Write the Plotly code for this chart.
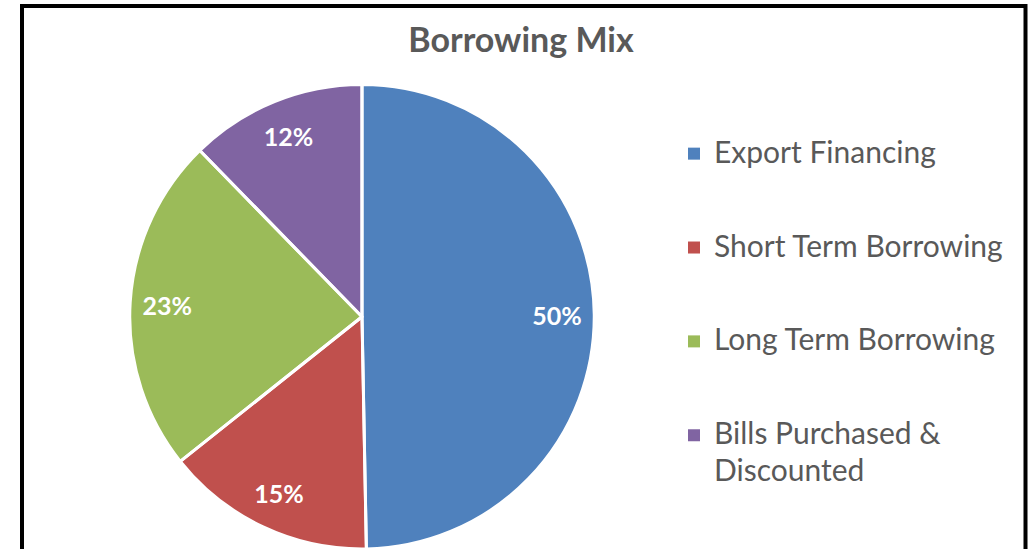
import plotly.graph_objects as go

# ---- data ----
categories = ["Export Financing", "Short Term Borrowing", "Long Term Borrowing", "Bills Purchased &<br>Discounted"]
values = [49.7, 14.6, 23.4, 12.3]   # shown as 50%, 15%, 23%, 12%
colors = ["#4F81BD", "#C0504D", "#9BBB59", "#8064A2"]
title_text = "Borrowing Mix"

W, H = 1030, 549
FONT = "Lato"
GREY = "#595959"

# legend entries: bigger text via span, blank lines for vertical spacing
legend_labels = []
for i, c in enumerate(categories):
    lines = c.split("<br>")
    parts = []
    for j, l in enumerate(lines):
        shift = ";baseline-shift:-6px" if j > 0 else ""
        parts.append(f"<span style='font-size:30px{shift}'>{l}</span>")
    txt = "<br>".join(parts)
    if i < len(categories) - 1:
        txt += "<br> " * (3 - len(lines))
    legend_labels.append(txt)

cx, cy, r = 362, 317, 232.5
dom_x = [(cx - r) / W, (cx + r) / W]
dom_y = [max(0.0, 1 - (cy + r) / H), min(1.0, 1 - (cy - r) / H)]

fig = go.Figure()
# main coloured pie (legend)
fig.add_trace(go.Pie(
    labels=legend_labels, values=values, sort=False, direction="clockwise", rotation=0,
    marker=dict(colors=colors, line=dict(width=0)),
    textinfo="none", domain=dict(x=dom_x, y=dom_y), hoverinfo="skip", showlegend=True,
))
# white slice borders
fig.add_trace(go.Pie(
    labels=legend_labels, values=values, sort=False, direction="clockwise", rotation=0,
    marker=dict(colors=["rgba(0,0,0,0)"] * 4, line=dict(color="white", width=3)),
    textinfo="none", domain=dict(x=dom_x, y=dom_y), hoverinfo="skip", showlegend=False,
))
# transparent ring carrying the percentage labels
fig.add_trace(go.Pie(
    labels=legend_labels, values=values, sort=False, direction="clockwise", rotation=0, hole=0.68,
    marker=dict(colors=["rgba(0,0,0,0)"] * 4, line=dict(width=0)),
    texttemplate="%{percent:.0%}", textposition="inside", insidetextorientation="horizontal",
    textfont=dict(family=FONT, size=25, color="white", weight="bold"),
    domain=dict(x=dom_x, y=dom_y), hoverinfo="skip", showlegend=False,
))

fig.update_layout(
    width=W, height=H,
    margin=dict(l=0, r=0, t=0, b=0),
    paper_bgcolor="white", plot_bgcolor="white",
    title=dict(text=f"<b>{title_text}</b>", x=521 / W, xanchor="center", y=1 - 40 / H, yanchor="middle",
               font=dict(family=FONT, size=34, color=GREY)),
    legend=dict(x=674 / W, xanchor="left", y=1 - 132 / H, yanchor="top", valign="top",
                font=dict(family=FONT, size=23.3, color=GREY), bgcolor="rgba(0,0,0,0)"),
    shapes=[dict(type="rect", xref="paper", yref="paper",
                 x0=22 / W, x1=1025.5 / W, y0=-0.1, y1=1 - 6 / H,
                 line=dict(color="black", width=4), fillcolor="rgba(0,0,0,0)", layer="above")],
)

fig.write_html("out.html")
